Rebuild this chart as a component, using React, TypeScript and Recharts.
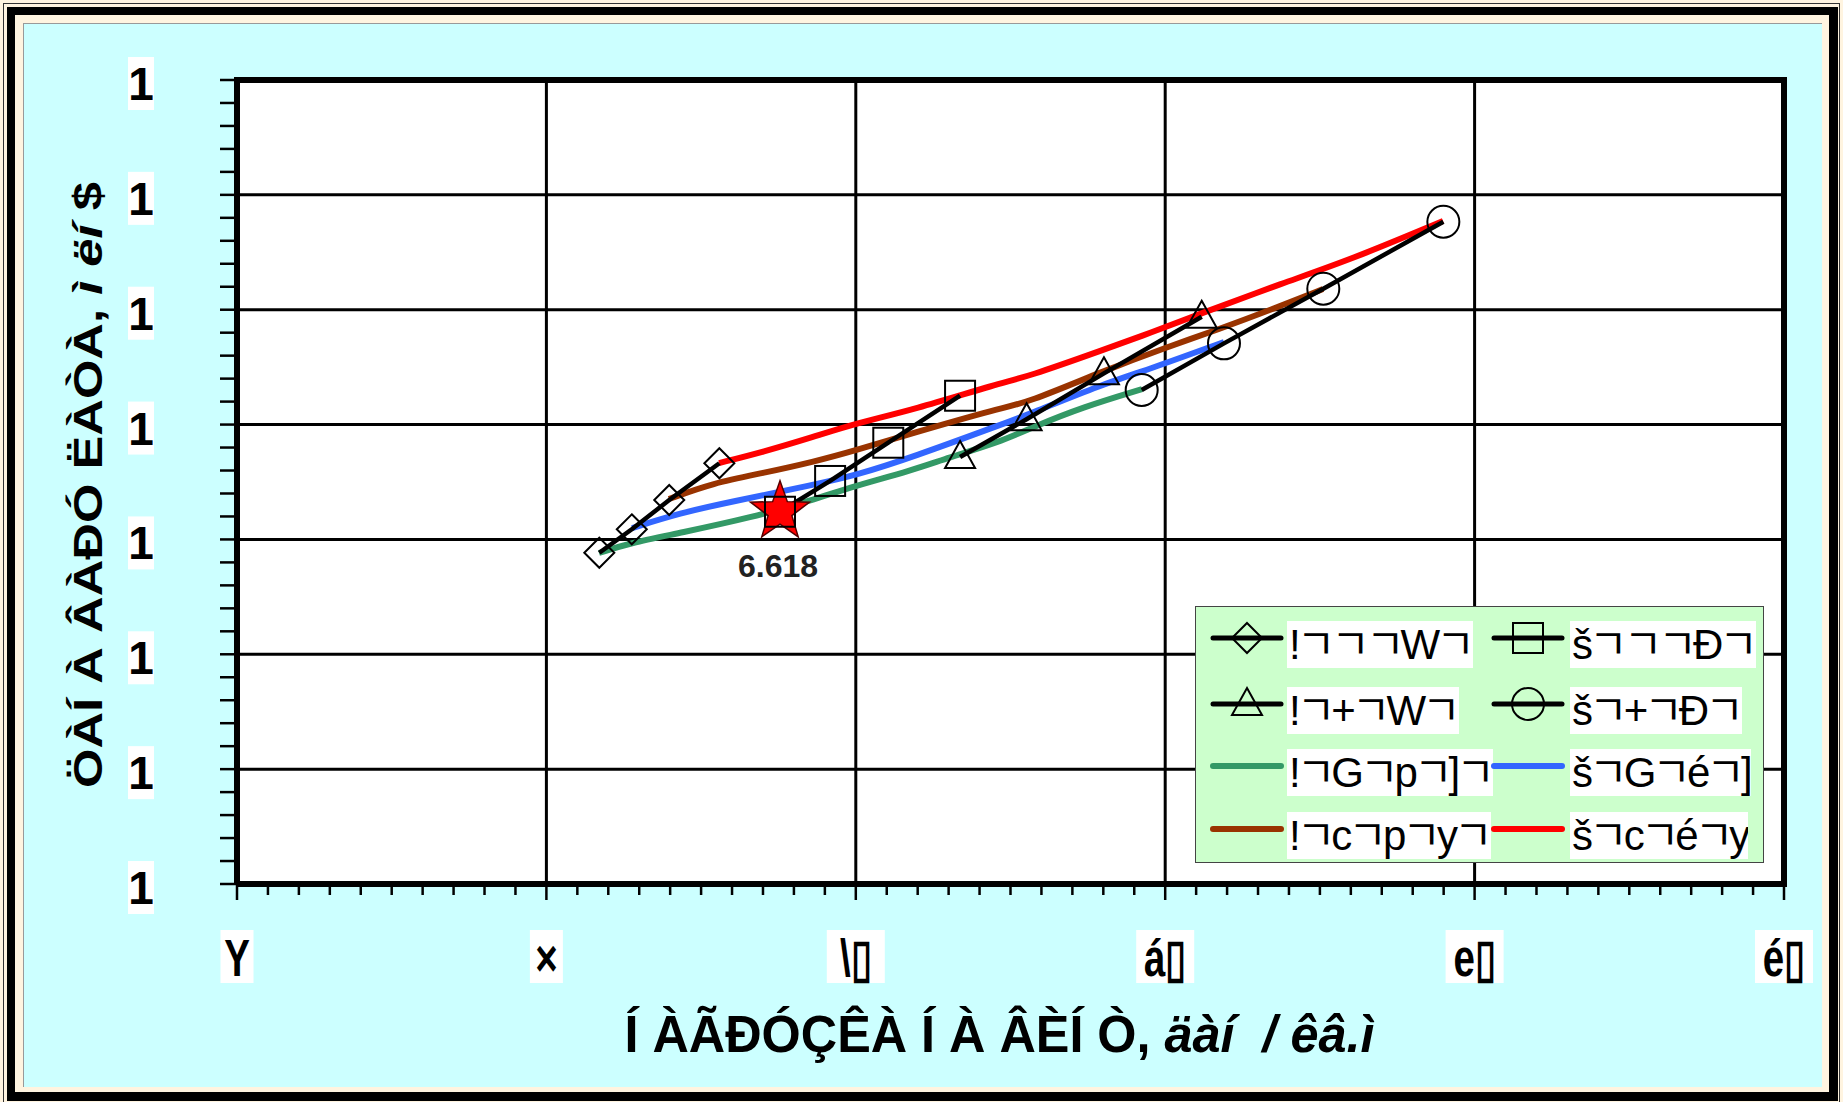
import React from "react";
import {
  CartesianGrid,
  ComposedChart,
  Legend,
  Line,
  ReferenceLine,
  Scatter,
  XAxis,
  YAxis,
} from "recharts";

// Axis ticks and labels (the labels are garbled in the source picture, kept as they appear)
const X_MAJOR = [0, 1, 2, 3, 4, 5];
const Y_MAJOR = [0, 1, 2, 3, 4, 5, 6, 7];
const X_TICK_LABELS = ["Y", "×", "\\▯", "á▯", "e▯", "é▯"];
const Y_TICK_LABELS = ["1", "1", "1", "1", "1", "1", "1", "1"];
const X_MINOR = Array.from({ length: 51 }, (_, i) => i / 10);
const Y_MINOR = Array.from({ length: 36 }, (_, i) => (i * 2) / 10);

const X_TITLE = "Í ÀÃÐÓÇÊÀ Í À ÂÈÍ Ò, ";
const X_TITLE_UNIT = "äàí  / êâ.ì";
const Y_TITLE = "ÖÀÍ À ÂÀÐÓ ËÀÒÀ, ";
const Y_TITLE_UNIT = "ì ëí";
const Y_TITLE_TAIL = " $";

// Marker series [x, y]
const DIAMOND = [[1.171, 2.884], [1.276, 3.088], [1.397, 3.343], [1.559, 3.663]];
const SQUARE = [[1.755, 3.241], [1.917, 3.509], [2.105, 3.842], [2.337, 4.251]];
const TRIANGLE = [[2.337, 3.718], [2.552, 4.046], [2.802, 4.446], [3.118, 4.939]];
const CIRCLE = [[2.924, 4.301], [3.19, 4.707], [3.511, 5.183], [3.899, 5.766]];

// Coloured curves [x, y]
const GREEN = [
  [1.17, 2.882], [1.27, 2.969], [1.432, 3.056], [1.668, 3.195], [1.842, 3.326],
  [1.972, 3.448], [2.185, 3.604], [2.295, 3.709], [2.466, 3.848], [2.573, 3.979],
  [2.734, 4.153], [2.925, 4.309],
];
const BLUE = [
  [1.277, 3.099], [1.432, 3.23], [1.593, 3.326], [1.862, 3.474], [2.004, 3.561],
  [2.185, 3.718], [2.466, 3.996], [2.553, 4.083], [2.799, 4.353], [2.951, 4.484],
  [3.19, 4.719],
];
const BROWN = [
  [1.396, 3.352], [1.538, 3.491], [1.7, 3.578], [1.862, 3.674], [2.004, 3.779],
  [2.185, 3.927], [2.466, 4.144], [2.553, 4.188], [2.799, 4.466], [3.006, 4.675],
  [3.167, 4.823], [3.381, 5.041], [3.51, 5.18],
];
const RED = [
  [1.558, 3.665], [1.7, 3.761], [1.862, 3.892], [2.004, 4.014], [2.185, 4.127],
  [2.466, 4.362], [2.553, 4.414], [2.799, 4.649], [2.951, 4.797], [3.119, 4.971],
  [3.381, 5.233], [3.597, 5.433], [3.898, 5.772],
];

const STAR = [[1.755, 3.241]];
const STAR_LABEL = "6.618";

const LEGEND_LABELS = [
  "!ㄱㄱㄱWㄱ", "šㄱㄱㄱÐㄱ",
  "!ㄱ+ㄱWㄱ", "šㄱ+ㄱÐㄱ",
  "!ㄱGㄱpㄱ]ㄱ", "šㄱGㄱéㄱ]",
  "!ㄱcㄱpㄱyㄱ", "šㄱcㄱéㄱy",
];
const LEGEND_KINDS = ["diamond", "square", "triangle", "circle", "line", "line", "line", "line"];
const LEGEND_COLORS = ["#000", "#000", "#000", "#000", "#339966", "#3366ff", "#993300", "#ff0000"];

const pts = (a: number[][]) => a.map(([x, y]) => ({ x, y }));

const SANS = "'Liberation Sans', Arial, sans-serif";
const LEGEND_FONT = "'Liberation Sans', Arial, 'Noto Sans CJK KR', sans-serif";

function markerShape(kind: string, cx: number, cy: number, key?: any) {
  const s = { fill: "none", stroke: "#000", strokeWidth: 2 };
  if (kind === "diamond") {
    const r = 15;
    return <polygon key={key} points={`${cx},${cy - r} ${cx + r},${cy} ${cx},${cy + r} ${cx - r},${cy}`} {...s} />;
  }
  if (kind === "square") return <rect key={key} x={cx - 15} y={cy - 15} width={30} height={30} {...s} />;
  if (kind === "triangle")
    return <polygon key={key} points={`${cx},${cy - 16} ${cx + 15},${cy + 11} ${cx - 15},${cy + 11}`} {...s} />;
  return <circle key={key} cx={cx} cy={cy} r={16} {...s} />;
}

const dotFor = (kind: string) => (p: any) => {
  if (p.cx == null || p.cy == null) return <g key={p.index} />;
  return markerShape(kind, p.cx, p.cy, `${kind}${p.index}`);
};

function StarShape(p: any) {
  const { cx, cy } = p;
  const R = 31;
  const r = 12.5;
  const d = Array.from({ length: 10 }, (_, i) => {
    const a = -Math.PI / 2 + (i * Math.PI) / 5;
    const rr = i % 2 === 0 ? R : r;
    return `${cx + rr * Math.cos(a)},${cy + rr * Math.sin(a)}`;
  }).join(" ");
  return (
    <g>
      <polygon points={d} fill="#ff0000" stroke="#550000" strokeWidth={1.5} />
      <text x={cx - 2} y={cy + 54} textAnchor="middle" dominantBaseline="central"
        fontFamily={SANS} fontWeight="bold" fontSize={32} fill="#222">
        {STAR_LABEL}
      </text>
    </g>
  );
}

function XTick(p: any) {
  const { x, y, payload } = p;
  const v = payload.value;
  const major = Math.abs(v - Math.round(v)) < 1e-6;
  const label = major ? X_TICK_LABELS[Math.round(v)] : "";
  const w = label.length * 25 + 8;
  return (
    <g>
      <line x1={x} y1={y} x2={x} y2={y + (major ? 16 : 11)} stroke="#000" strokeWidth={2.5} />
      {major && (
        <>
          <rect x={x - w / 2} y={y + 46} width={w} height={53} fill="#fff" />
          <text transform={`translate(${x},${y + 74}) scale(0.74,1)`} textAnchor="middle"
            dominantBaseline="central" fontFamily={SANS} fontWeight="bold" fontSize={52} fill="#000">
            {label}
          </text>
        </>
      )}
    </g>
  );
}

function YTick(p: any) {
  const { x, y, payload } = p;
  const v = payload.value;
  const major = Math.abs(v - Math.round(v)) < 1e-6;
  return (
    <g>
      <line x1={x} y1={y} x2={x - 17} y2={y} stroke="#000" strokeWidth={2.5} />
      {major && (
        <>
          <rect x={x - 109} y={y - 23} width={26} height={53} fill="#fff" />
          <text x={x - 96} y={y + 4} textAnchor="middle" dominantBaseline="central"
            fontFamily={SANS} fontWeight="bold" fontSize={46} fill="#000">
            {Y_TICK_LABELS[Math.round(v)]}
          </text>
        </>
      )}
    </g>
  );
}

function XTitle(p: any) {
  const vb = p.viewBox || { x: 237, y: 884, width: 1547 };
  const cx = vb.x + vb.width / 2 - 11;
  return (
    <text x={cx} y={vb.y + 150} textAnchor="middle" dominantBaseline="central"
      fontFamily={SANS} fontWeight="bold" fontSize={52} fill="#000"
      textLength={750} lengthAdjust="spacingAndGlyphs" style={{ whiteSpace: "pre" }}>
      {X_TITLE}
      <tspan fontStyle="italic">{X_TITLE_UNIT}</tspan>
    </text>
  );
}

function YTitle(p: any) {
  const vb = p.viewBox || { x: 87, y: 80, width: 150, height: 804 };
  const cx = vb.x + vb.width - 149;
  const cy = vb.y + vb.height / 2 + 3;
  return (
    <text x={cx} y={cy} transform={`rotate(-90 ${cx} ${cy})`} textAnchor="middle"
      dominantBaseline="central" fontFamily={SANS} fontWeight="bold" fontSize={40} fill="#000"
      textLength={606} lengthAdjust="spacingAndGlyphs" style={{ whiteSpace: "pre" }}>
      {Y_TITLE}
      <tspan fontStyle="italic">{Y_TITLE_UNIT}</tspan>
      {Y_TITLE_TAIL}
    </text>
  );
}

function LegendBox() {
  const rowCenters = [31, 97, 159, 222];
  return (
    <div style={{ position: "relative", width: 569, height: 257, background: "#ccffcc",
      border: "1.5px solid #444", boxSizing: "border-box" }}>
      {LEGEND_LABELS.map((label, i) => {
        const row = Math.floor(i / 2);
        const col = i % 2;
        const kind = LEGEND_KINDS[i];
        const color = LEGEND_COLORS[i];
        const cy = rowCenters[row];
        return (
          <React.Fragment key={label}>
            <div style={{ position: "absolute", left: col ? 374 : 91, top: cy - 17, height: 47,
              lineHeight: "47px", background: "#fff", padding: "0 2px 0 2px", fontFamily: LEGEND_FONT,
              fontSize: 42, letterSpacing: -4, color: "#000", whiteSpace: "pre", overflow: "hidden" }}>
              {label}
            </div>
            <svg width={74} height={40} style={{ position: "absolute", left: col ? 295 : 14, top: cy - 20 }}>
              <line x1={3} y1={20} x2={71} y2={20} stroke={color} strokeWidth={kind === "line" ? 6 : 5}
                strokeLinecap="round" />
              {kind !== "line" && markerShape(kind, 37, 20)}
            </svg>
          </React.Fragment>
        );
      })}
    </div>
  );
}

const curve = (data: number[][], color: string) => (
  <Line data={pts(data)} dataKey="y" type="basis" stroke={color} strokeWidth={6}
    dot={false} activeDot={false} isAnimationActive={false} legendType="none" />
);

const markers = (data: number[][], kind: string) => (
  <Line data={pts(data)} dataKey="y" type="linear" stroke="#000" strokeWidth={4.5}
    dot={dotFor(kind)} activeDot={false} isAnimationActive={false} legendType="none" />
);

export default function App() {
  return (
    <div style={{ position: "absolute", left: 0, top: 0, width: 1843, height: 1102, overflow: "hidden",
      background: "#fff4e0" }}>
      <div style={{ position: "absolute", left: 3, top: 3, right: 3, bottom: -5, border: "1px solid #333" }} />
      <div style={{ position: "absolute", left: 7, top: 7, right: 5, bottom: 1, borderStyle: "solid",
        borderColor: "#000", borderWidth: "8px 9px 9px 8px", background: "#fff4e0" }} />
      <div style={{ position: "absolute", left: 23, top: 23, right: 21, bottom: 15, background: "#ccffff",
        borderTop: "1px solid #999", borderLeft: "1px solid #999", boxSizing: "border-box" }} />
      <div style={{ position: "absolute", left: 0, top: 0 }}>
        <ComposedChart width={1843} height={1102} margin={{ top: 80, right: 59, bottom: 68, left: 87 }}>
          <CartesianGrid stroke="#000" strokeWidth={3} fill="#fff" fillOpacity={1}
            horizontalValues={Y_MAJOR} verticalValues={X_MAJOR} />
          <XAxis dataKey="x" type="number" domain={[0, 5]} allowDataOverflow ticks={X_MINOR} interval={0}
            height={150} tickSize={0} tickMargin={0} tickLine={false} tick={<XTick />}
            axisLine={{ stroke: "#000", strokeWidth: 6 }} label={<XTitle />} />
          <YAxis type="number" domain={[0, 7]} allowDataOverflow ticks={Y_MINOR} interval={0}
            width={150} tickSize={0} tickMargin={0} tickLine={false} tick={<YTick />}
            axisLine={{ stroke: "#000", strokeWidth: 6 }} label={<YTitle />} />
          <ReferenceLine y={7} stroke="#000" strokeWidth={6} strokeLinecap="square" />
          <ReferenceLine x={5} stroke="#000" strokeWidth={6} strokeLinecap="square" />

          {curve(GREEN, "#339966")}
          {curve(BLUE, "#3366ff")}
          {curve(BROWN, "#993300")}
          {curve(RED, "#ff0000")}

          {markers(DIAMOND, "diamond")}
          {markers(SQUARE, "square")}
          {markers(TRIANGLE, "triangle")}
          {markers(CIRCLE, "circle")}

          <Scatter data={pts(STAR)} dataKey="y" shape={<StarShape />} isAnimationActive={false}
            legendType="none" />

          <Legend layout="horizontal" verticalAlign="middle" align="center" width={569} height={257}
            wrapperStyle={{ left: 1195, top: 606, width: 569, height: 257 }} content={() => <LegendBox />} />
        </ComposedChart>
      </div>
    </div>
  );
}
